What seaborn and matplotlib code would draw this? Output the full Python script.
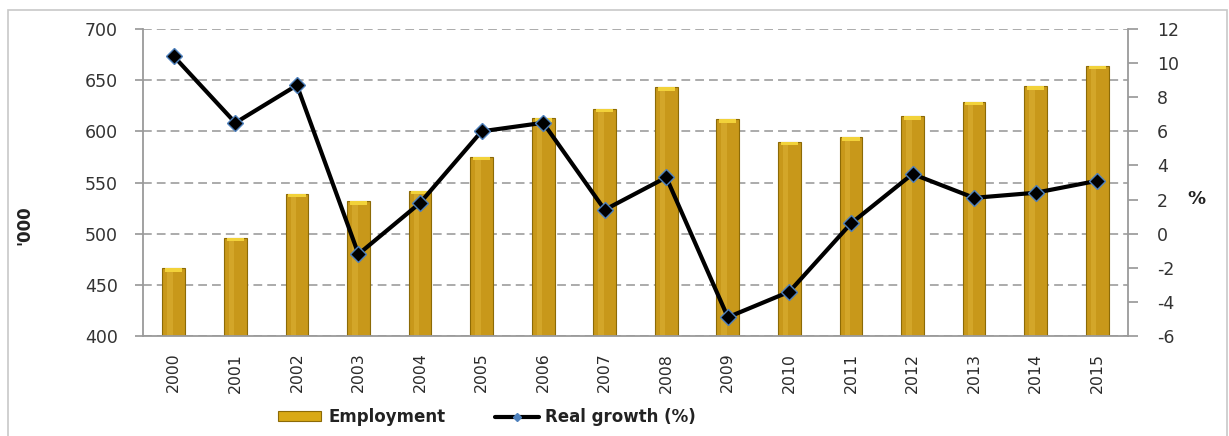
import numpy as np
import pandas as pd
import matplotlib
matplotlib.use("Agg")
import matplotlib.pyplot as plt
from matplotlib.patches import Rectangle
from matplotlib.lines import Line2D
from matplotlib.ticker import FixedLocator, MultipleLocator
import seaborn as sns

years = [str(y) for y in range(2000, 2016)]
employment = [466, 496, 539, 532, 542, 575, 613, 622, 643, 612, 590, 594, 615, 629, 644, 664]
real_growth = [10.4, 6.5, 8.7, -1.2, 1.8, 6.0, 6.5, 1.4, 3.3, -4.9, -3.4, 0.6, 3.5, 2.1, 2.4, 3.1]

df = pd.DataFrame({"year": years, "employment": employment, "growth": real_growth})

sns.set_theme(style="white")
plt.rcParams["font.family"] = ["DejaVu Sans"]
plt.rcParams["axes.unicode_minus"] = False

GOLD = "#C8981A"
GOLD_EDGE = "#8C6A06"
GRID = "#ABABAB"
SPINE = "#9A9A9A"
TXT = "#333333"

W, H = 1229, 436
fig = plt.figure(figsize=(W / 100, H / 100), dpi=100)
fig.patch.set_facecolor("white")
ax = fig.add_axes([143 / W, 1 - 336 / H, (1128 - 143) / W, (336 - 29) / H])

sns.barplot(data=df, x="year", y="employment", ax=ax, color=GOLD, width=0.37,
            edgecolor=GOLD_EDGE, linewidth=0.8, saturation=1)

ax.set_ylim(400, 700)
ax.set_xlim(-0.5, len(years) - 0.5)
ax.yaxis.set_major_locator(MultipleLocator(50))
ax.set_axisbelow(True)
ax.grid(axis="y", color=GRID, linestyle=(0, (4.5, 2.6)), linewidth=1.4)
ax.grid(axis="x", visible=False)

for side in ("top", "right"):
    ax.spines[side].set_visible(False)
for side in ("left", "bottom"):
    ax.spines[side].set_color(SPINE)
    ax.spines[side].set_linewidth(1.3)

ax.set_xlabel("")
ax.set_ylabel("'000", fontsize=12, fontweight="bold", color="#222222")
ax.yaxis.set_label_coords(-0.111, 0.36)
ax.tick_params(axis="y", which="major", direction="out", length=6, color=SPINE,
               labelsize=12.5, labelcolor=TXT, pad=12)
ax.tick_params(axis="x", which="major", length=0, labelsize=11.3, labelcolor="#2a2a2a",
               rotation=90, pad=12)
ax.xaxis.set_minor_locator(FixedLocator(np.arange(0.5, len(years) - 0.5, 1.0)))
ax.tick_params(axis="x", which="minor", direction="out", length=5, color=SPINE, width=1.2)

# soft highlight strip and bright cap on each bar for a rounded look
for bar in list(ax.patches):
    x0, w, h = bar.get_x(), bar.get_width(), bar.get_height()
    ax.add_patch(Rectangle((x0 + w * 0.22, 400), w * 0.24, h - 400 - 1,
                           facecolor="#DDB336", edgecolor="none", alpha=0.55,
                           zorder=bar.get_zorder() + 0.1))
    ax.add_patch(Rectangle((x0 + w * 0.12, h - 3.5), w * 0.76, 3.5,
                           facecolor="#F2D23A", edgecolor="none",
                           zorder=bar.get_zorder() + 0.2))

ax2 = ax.twinx()
sns.pointplot(data=df, x="year", y="growth", ax=ax2, color="black", markers="D",
              linestyles="-", errorbar=None)
for ln in ax2.lines:
    ln.set_linewidth(3.0)
    ln.set_markersize(8.5)
    ln.set_markerfacecolor("black")
    ln.set_markeredgecolor("#4F81BD")
    ln.set_markeredgewidth(1.0)
for coll in ax2.collections:
    coll.set_visible(False)

ax2.set_ylim(-6, 12)
ax2.set_xlim(-0.5, len(years) - 0.5)
ax2.yaxis.set_major_locator(MultipleLocator(2))
ax2.grid(False)
for side in ("top", "left", "bottom"):
    ax2.spines[side].set_visible(False)
ax2.spines["right"].set_color(SPINE)
ax2.spines["right"].set_linewidth(1.3)
ax2.tick_params(axis="y", direction="out", length=7, color=SPINE, labelsize=12.5,
                labelcolor=TXT, pad=14)
ax2.set_ylabel("%", rotation=0, fontsize=13, fontweight="bold", color="#222222")
ax2.yaxis.set_label_coords(1.069, 0.476)
ax2.set_xlabel("")

# legend below the plot
handles = [
    Rectangle((0, 0), 1, 1, facecolor="#D9A915", edgecolor=GOLD_EDGE, linewidth=0.8),
    Line2D([0], [0], color="black", linewidth=3.0, marker="D", markersize=4,
           markerfacecolor="#4F81BD", markeredgecolor="#4F81BD"),
]
fig.legend(handles, ["Employment", "Real growth (%)"], loc="center",
           bbox_to_anchor=(487 / W, 1 - 417 / H), ncol=2, frameon=False,
           prop={"weight": "bold", "size": 12}, labelcolor="#222222",
           handlelength=2.6, handleheight=0.5, handletextpad=0.4, columnspacing=3.0)

# light frame around the chart area
fig.add_artist(Rectangle((8 / W, -10 / H), (1227 - 8) / W, (H + 10 - 10) / H,
                         transform=fig.transFigure, fill=False, edgecolor="#C8C8C8",
                         linewidth=1.2))

fig.savefig("out.png", dpi=100, facecolor="white")
